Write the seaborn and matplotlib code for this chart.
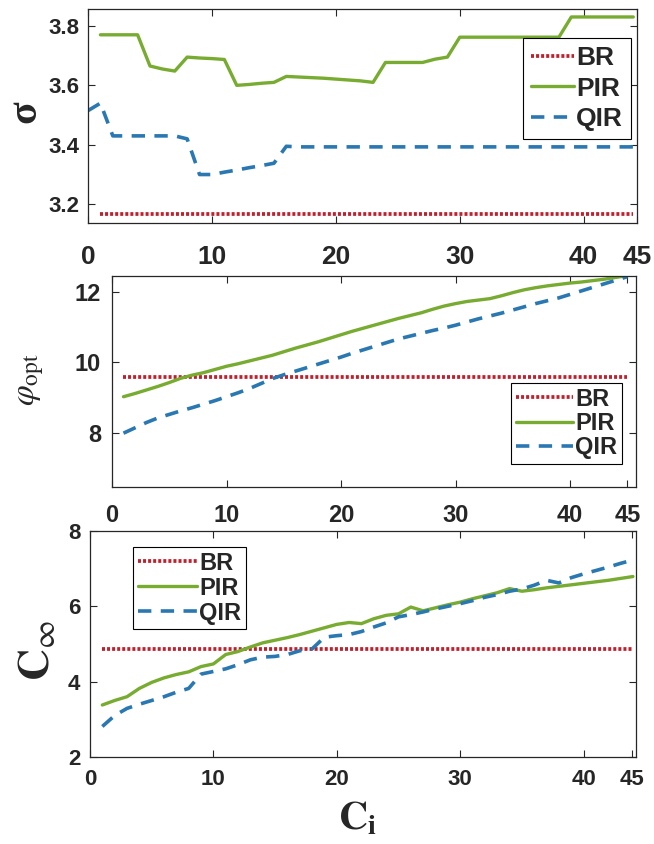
import numpy as np
import pandas as pd
import matplotlib
matplotlib.use("Agg")
import matplotlib.pyplot as plt
from matplotlib import font_manager
import seaborn as sns

# ==================================
# DATA
# ==================================

# sigma panel
x_sig = list(range(1, 45))
x_sig_qir = list(range(0, 45))
sig_br = [3.168] * 44
sig_pir = [3.77, 3.77, 3.77, 3.77, 3.665, 3.655, 3.648, 3.695, 3.692, 3.69,
           3.687, 3.60, 3.603, 3.607, 3.61, 3.63, 3.628, 3.626, 3.624, 3.621,
           3.618, 3.615, 3.61, 3.677, 3.677, 3.677, 3.677, 3.688, 3.695, 3.762,
           3.762, 3.762, 3.762, 3.762, 3.762, 3.762, 3.762, 3.762, 3.83, 3.83,
           3.83, 3.83, 3.83, 3.83]
sig_qir = [3.515, 3.54, 3.43, 3.43, 3.43, 3.43, 3.43, 3.43, 3.42, 3.30,
           3.30, 3.308, 3.315, 3.323, 3.33, 3.338, 3.395] + [3.393] * 28

# phi_opt panel
x_phi = list(range(1, 46))
phi_br = [9.6] * 45
phi_pir = [9.03, 9.12, 9.22, 9.32, 9.43, 9.55, 9.64, 9.71, 9.80, 9.89,
           9.96, 10.04, 10.12, 10.20, 10.30, 10.40, 10.49, 10.58, 10.68, 10.78,
           10.88, 10.97, 11.06, 11.15, 11.24, 11.32, 11.40, 11.50, 11.59, 11.66,
           11.72, 11.76, 11.80, 11.88, 11.97, 12.05, 12.11, 12.16, 12.20, 12.24,
           12.27, 12.31, 12.35, 12.40, 12.45]
phi_qir = [8.00, 8.15, 8.30, 8.43, 8.53, 8.63, 8.72, 8.82, 8.92, 9.03,
           9.14, 9.26, 9.40, 9.54, 9.65, 9.75, 9.85, 9.95, 10.05, 10.15,
           10.26, 10.36, 10.46, 10.56, 10.66, 10.74, 10.82, 10.90, 10.97, 11.05,
           11.14, 11.23, 11.31, 11.39, 11.48, 11.57, 11.66, 11.74, 11.82, 11.92,
           12.02, 12.12, 12.22, 12.32, 12.42]

# C_inf panel
x_c = list(range(1, 45))
c_br = [4.855] * 44
c_pir = [3.38, 3.50, 3.60, 3.82, 3.98, 4.10, 4.19, 4.26, 4.40, 4.47,
         4.72, 4.80, 4.92, 5.03, 5.10, 5.17, 5.25, 5.34, 5.43, 5.52,
         5.57, 5.54, 5.67, 5.76, 5.80, 5.98, 5.88, 5.96, 6.04, 6.11,
         6.20, 6.28, 6.36, 6.47, 6.40, 6.44, 6.49, 6.53, 6.57, 6.61,
         6.65, 6.69, 6.74, 6.79]
c_qir = [2.81, 3.10, 3.29, 3.40, 3.50, 3.60, 3.72, 3.82, 4.20, 4.27,
         4.34, 4.45, 4.58, 4.65, 4.67, 4.72, 4.82, 4.87, 5.18, 5.22,
         5.25, 5.33, 5.45, 5.56, 5.72, 5.78, 5.85, 5.93, 6.00, 6.07,
         6.15, 6.24, 6.31, 6.40, 6.46, 6.56, 6.69, 6.62, 6.76, 6.86,
         6.95, 7.04, 7.14, 7.23]

xtick_labels = ["0", "10", "20", "30", "40", "45"]

# ==================================
# STYLE
# ==================================

sns.set_style("ticks")
installed = {f.name for f in font_manager.fontManager.ttflist}
narrow = "Liberation Sans Narrow" if "Liberation Sans Narrow" in installed else "Liberation Sans"
plt.rcParams["font.family"] = ["Liberation Sans", "DejaVu Sans"]
plt.rcParams["mathtext.fontset"] = "stix"
plt.rcParams["axes.edgecolor"] = "#262626"
plt.rcParams["axes.linewidth"] = 0.9

RED = "#C01F2C"
GREEN = "#77AC30"
BLUE = "#2A78B2"
DOT = (0, (0.8, 0.55))
DASH = (0, (3.7, 2.6))

fig = plt.figure(figsize=(6.54, 8.44), dpi=100)
ax1 = fig.add_axes([0.1346, 0.7358, 0.8394, 0.2536])
ax2 = fig.add_axes([0.1713, 0.4230, 0.8012, 0.2500])
ax3 = fig.add_axes([0.1376, 0.1031, 0.8349, 0.2678])


def draw(ax, xb, yb, xp, yp, xq, yq):
    sns.lineplot(x=xb, y=yb, ax=ax, color=RED, linewidth=2.7, linestyle=DOT, label="BR")
    sns.lineplot(x=xp, y=yp, ax=ax, color=GREEN, linewidth=2.4, label="PIR")
    sns.lineplot(x=xq, y=yq, ax=ax, color=BLUE, linewidth=2.6, linestyle=DASH, label="QIR")
    ax.tick_params(direction="in", top=True, right=True, length=5, width=0.8,
                   colors="#262626")


def legend(ax, loc, anchor, prop, hl, ls, bp):
    leg = ax.legend(loc=loc, bbox_to_anchor=anchor, borderaxespad=0, prop=prop,
                    handlelength=hl, handletextpad=0.1, labelspacing=ls, borderpad=bp,
                    fancybox=False, edgecolor="black", framealpha=1)
    leg.get_frame().set_linewidth(0.8)


# ---------- sigma ----------
draw(ax1, x_sig, sig_br, x_sig, sig_pir, x_sig_qir, sig_qir)
ax1.set_xlim(0, 44.3)
ax1.set_ylim(3.137, 3.857)
ax1.set_xticks([0, 10, 20, 30, 40, 44.3])
ax1.set_xticklabels(xtick_labels)
ax1.set_yticks([3.2, 3.4, 3.6, 3.8])
ax1.set_yticklabels(["3.2", "3.4", "3.6", "3.8"])
ax1.tick_params(axis="x", pad=16)
ax1.tick_params(axis="y", pad=6)
for t in ax1.get_xticklabels():
    t.set_fontfamily(narrow); t.set_fontweight("bold"); t.set_fontsize(19)
for t in ax1.get_yticklabels():
    t.set_fontfamily(narrow); t.set_fontweight("bold"); t.set_fontsize(16)
ax1.set_xlabel("")
ax1.set_ylabel("σ", fontsize=30, fontweight="bold", family=["Liberation Serif", "DejaVu Serif"])
ax1.yaxis.set_label_coords(-0.115, 0.52)
ax1.yaxis.label.set_va("center")
legend(ax1, "upper right", (0.989, 0.864),
       {"family": narrow, "weight": "bold", "size": 19}, 1.6, 0.25, 0.3)

# ---------- phi_opt ----------
draw(ax2, x_phi, phi_br, x_phi, phi_pir, x_phi, phi_qir)
ax2.set_xlim(0, 45.76)
ax2.set_ylim(6.48, 12.44)
ax2.set_xticks([0, 10, 20, 30, 40, 45])
ax2.set_xticklabels(xtick_labels)
ax2.set_yticks([8, 10, 12])
ax2.set_yticklabels(["8", "10", "12"])
ax2.tick_params(axis="x", pad=12)
ax2.tick_params(axis="y", pad=8)
for t in ax2.get_xticklabels() + ax2.get_yticklabels():
    t.set_fontweight("bold"); t.set_fontsize(17)
ax2.set_xlabel("")
ax2.set_ylabel(r"$\varphi_{\rm opt}$", fontsize=24)
ax2.yaxis.set_label_coords(-0.155, 0.51)
ax2.yaxis.label.set_va("center")
legend(ax2, "upper right", (0.973, 0.493), {"weight": "bold", "size": 17}, 2.4, 0.05, 0.2)

# ---------- C_inf ----------
draw(ax3, x_c, c_br, x_c, c_pir, x_c, c_qir)
ax3.set_xlim(0, 44.25)
ax3.set_ylim(2, 8)
ax3.set_xticks([0, 10, 20, 30, 40, 43.9])
ax3.set_xticklabels(xtick_labels)
ax3.set_yticks([2, 4, 6, 8])
ax3.set_yticklabels(["2", "4", "6", "8"])
ax3.tick_params(axis="x", pad=9)
ax3.tick_params(axis="y", pad=7)
for t in ax3.get_xticklabels() + ax3.get_yticklabels():
    t.set_fontweight("bold"); t.set_fontsize(16)
ax3.set_xlabel(r"$\mathbf{C}_{\mathbf{i}}$", fontsize=29)
ax3.xaxis.set_label_coords(0.49, -0.19)
ax3.set_ylabel(r"$\mathbf{C}_{\infty}$", fontsize=32)
ax3.yaxis.set_label_coords(-0.097, 0.47)
ax3.yaxis.label.set_va("center")
legend(ax3, "upper left", (0.079, 0.929), {"weight": "bold", "size": 17}, 2.5, 0.08, 0.2)

fig.savefig("out.png", dpi=100)
